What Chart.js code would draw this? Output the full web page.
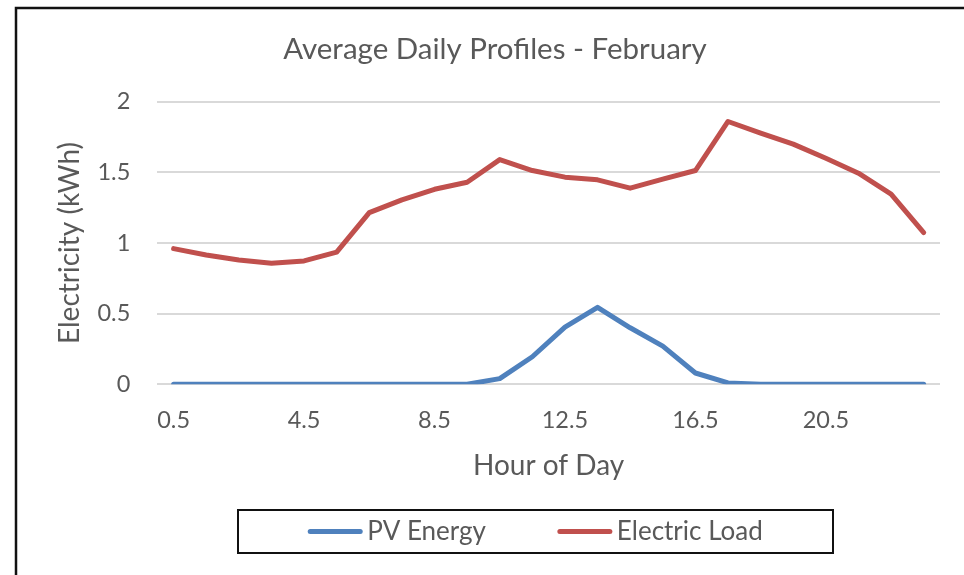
<!DOCTYPE html>
<html>
<head>
<meta charset="utf-8">
<script src="https://cdn.jsdelivr.net/npm/chart.js@4/dist/chart.umd.min.js"></script>
<style>
  html, body { margin: 0; padding: 0; background: #ffffff; }
  #wrap { width: 964px; height: 575px; position: relative; }
</style>
</head>
<body>
<div id="wrap"><canvas id="chart" width="964" height="575"></canvas></div>
<script>
// Hour-of-day categories (half-hour midpoints)
const hours = ['0.5','1.5','2.5','3.5','4.5','5.5','6.5','7.5','8.5','9.5','10.5','11.5',
               '12.5','13.5','14.5','15.5','16.5','17.5','18.5','19.5','20.5','21.5','22.5','23.5'];

// Average PV generation per hour (kWh)
const pvEnergy = [0, 0, 0, 0, 0, 0, 0, 0, 0, 0, 0.04, 0.195,
                  0.405, 0.545, 0.40, 0.27, 0.08, 0.01, 0, 0, 0, 0, 0, 0];

// Average household electric load per hour (kWh)
const electricLoad = [0.96, 0.915, 0.88, 0.857, 0.873, 0.935, 1.215, 1.305, 1.38, 1.43, 1.59, 1.513,
                      1.466, 1.447, 1.388, 1.452, 1.513, 1.86, 1.778, 1.70, 1.60, 1.494, 1.346, 1.074];

// Every fourth hour gets a label on the x axis
const shownHourTicks = ['0.5', '4.5', '8.5', '12.5', '16.5', '20.5'];

const seriesNames = ['PV Energy', 'Electric Load'];
const textColor = '#595959';
const fontFamily = 'Lato, "Open Sans", sans-serif';

// Outer frame of the chart object
const framePlugin = {
  id: 'frame',
  afterDraw(chart) {
    const ctx = chart.ctx;
    ctx.save();
    ctx.strokeStyle = '#111111';
    ctx.lineWidth = 2.5;
    ctx.strokeRect(16, 8, 1200, 1200);
    ctx.restore();
  }
};

// Boxed legend below the axis title
const boxedLegend = {
  id: 'boxedLegend',
  afterDraw(chart) {
    const ctx = chart.ctx;
    const box = { left: 238, top: 510, right: 833, bottom: 553 };
    ctx.save();
    ctx.strokeStyle = '#111111';
    ctx.lineWidth = 2;
    ctx.strokeRect(box.left, box.top, box.right - box.left, box.bottom - box.top);

    ctx.font = '26px ' + fontFamily;
    ctx.textBaseline = 'middle';
    ctx.textAlign = 'left';
    const swatch = 54, gapText = 5, gapItem = 72;
    const items = chart.data.datasets.map(ds => ({
      label: ds.label, color: ds.borderColor, w: ctx.measureText(ds.label).width
    }));
    const total = items.reduce((s, it) => s + swatch + gapText + it.w, 0) + gapItem * (items.length - 1);
    let x = (box.left + box.right) / 2 - total / 2;
    const cy = (box.top + box.bottom) / 2;
    items.forEach(it => {
      ctx.strokeStyle = it.color;
      ctx.lineWidth = 5;
      ctx.lineCap = 'round';
      ctx.beginPath();
      ctx.moveTo(x + 2, cy);
      ctx.lineTo(x + swatch - 2, cy);
      ctx.stroke();
      ctx.fillStyle = textColor;
      ctx.fillText(it.label, x + swatch + gapText, cy);
      x += swatch + gapText + it.w + gapItem;
    });
    ctx.restore();
  }
};

new Chart(document.getElementById('chart'), {
  type: 'line',
  data: {
    labels: hours,
    datasets: [
      {
        label: seriesNames[0],
        data: pvEnergy,
        borderColor: '#4F81BD',
        backgroundColor: '#4F81BD',
        borderWidth: 5,
        pointRadius: 0,
        tension: 0,
        borderCapStyle: 'round',
        borderJoinStyle: 'round'
      },
      {
        label: seriesNames[1],
        data: electricLoad,
        borderColor: '#C0504D',
        backgroundColor: '#C0504D',
        borderWidth: 5,
        pointRadius: 0,
        tension: 0,
        borderCapStyle: 'round',
        borderJoinStyle: 'round'
      }
    ]
  },
  options: {
    responsive: false,
    animation: false,
    layout: { padding: { left: 50, right: 24, top: 0, bottom: 90.7 } },
    plugins: {
      legend: { display: false },
      tooltip: { enabled: false },
      title: {
        display: true,
        text: 'Average Daily Profiles - February',
        color: textColor,
        font: { family: fontFamily, size: 29.5, weight: 'normal' },
        padding: { top: 32, bottom: 34.3 }
      }
    },
    scales: {
      x: {
        type: 'category',
        offset: true,
        grid: { display: false, drawTicks: false },
        border: { display: false },
        ticks: {
          autoSkip: false,
          maxRotation: 0,
          padding: 22,
          color: textColor,
          font: { family: fontFamily, size: 23.5 },
          callback: function (value) {
            const lbl = this.getLabelForValue(value);
            return shownHourTicks.includes(lbl) ? lbl : '';
          }
        },
        title: {
          display: true,
          text: 'Hour of Day',
          color: textColor,
          font: { family: fontFamily, size: 28 },
          padding: { top: 0, bottom: 1.5 }
        },
        afterFit(scale) { scale.height = 100; }
      },
      y: {
        min: 0,
        max: 2,
        grid: { color: '#D9D9D9', lineWidth: 2, drawTicks: false },
        border: { display: false },
        ticks: {
          stepSize: 0.5,
          padding: 27,
          color: textColor,
          font: { family: fontFamily, size: 23.5 },
          callback: (value) => String(Number(value))
        },
        title: {
          display: true,
          text: 'Electricity (kWh)',
          color: textColor,
          font: { family: fontFamily, size: 28 },
          padding: { top: 3, bottom: 0 }
        },
        afterFit(scale) { scale.width = 107.3; }
      }
    }
  },
  plugins: [framePlugin, boxedLegend]
});
</script>
</body>
</html>
